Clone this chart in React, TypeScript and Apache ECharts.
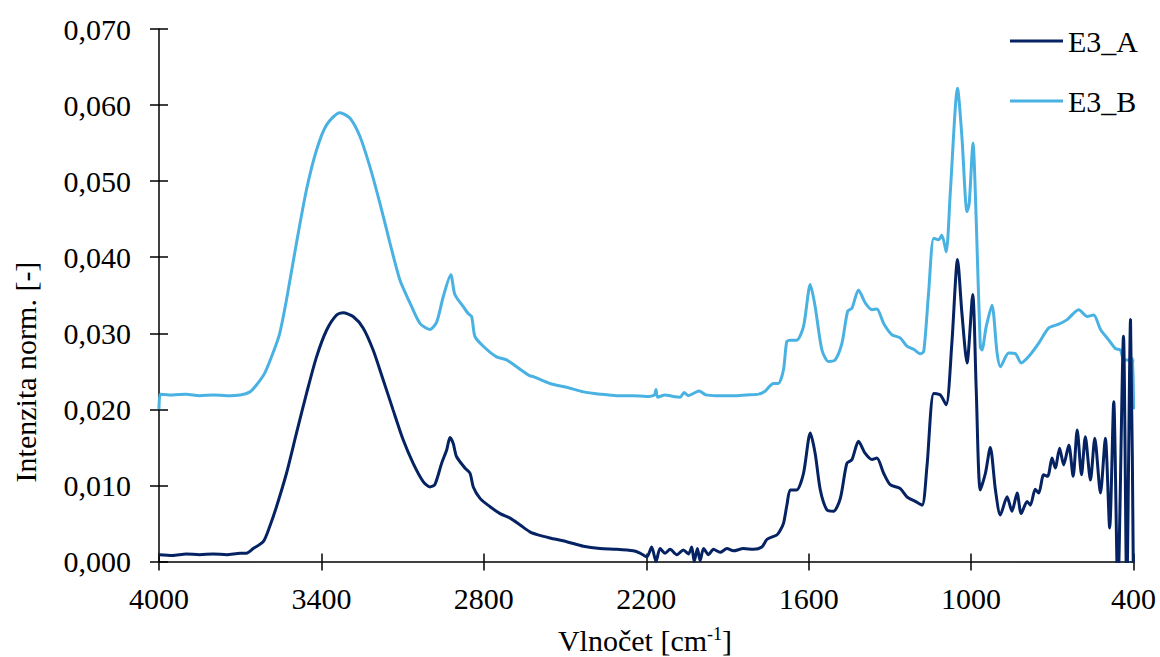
import React, { useEffect, useRef } from "react";
import * as echarts from "echarts";

const FONT = "Times New Roman";

const seriesNames = ["E3_A", "E3_B"];
const seriesColors = ["#052262", "#4AB2E2"];

const xMin = 400;
const xMax = 4000;
const xStep = 600;
const yMin = 0;
const yMax = 0.07;
const yStep = 0.01;

const xTitle = "Vlnočet [cm";
const xTitleSup = "-1";
const yTitle = "Intenzita norm. [-]";

// [wavenumber cm-1, normalised intensity]
const e3A: [number, number][] = [
  [4000, 0.0009], [3950, 0.0008], [3900, 0.001], [3850, 0.0009], [3800, 0.001], [3750, 0.0009],
  [3700, 0.0011], [3677, 0.0011], [3652, 0.0017], [3615, 0.0026], [3591, 0.0046], [3566, 0.0072],
  [3529, 0.0116], [3492, 0.0169], [3455, 0.0221], [3418, 0.0269], [3381, 0.0304], [3344, 0.0324],
  [3320, 0.0327], [3283, 0.0322], [3246, 0.0307], [3209, 0.0278], [3172, 0.0239], [3135, 0.0199],
  [3098, 0.016], [3061, 0.0129], [3024, 0.0105], [2999, 0.0098], [2981, 0.0101], [2956, 0.0129],
  [2937, 0.0147], [2925, 0.0163], [2913, 0.0155], [2901, 0.0138], [2870, 0.0123], [2851, 0.0116],
  [2839, 0.0098], [2814, 0.0083], [2777, 0.0072], [2740, 0.0063], [2703, 0.0057], [2666, 0.0048],
  [2630, 0.0039], [2600, 0.0035], [2556, 0.0031], [2494, 0.0026], [2432, 0.002], [2371, 0.0017],
  [2309, 0.0016], [2248, 0.0014], [2223, 0.0011], [2198, 0.0006], [2180, 0.0019], [2164, 0.0],
  [2149, 0.0017], [2130, 0.0011], [2112, 0.0016], [2087, 0.0009], [2063, 0.0015], [2044, 0.001],
  [2032, 0.0019], [2023, 0.0], [2011, 0.0017], [2001, 0.0001], [1988, 0.0017], [1970, 0.0009],
  [1952, 0.0016], [1927, 0.0012], [1902, 0.0017], [1878, 0.0014], [1841, 0.0017], [1804, 0.0016],
  [1773, 0.0019], [1754, 0.0029], [1717, 0.0035], [1705, 0.0041], [1693, 0.005], [1680, 0.0075],
  [1668, 0.0094], [1644, 0.0094], [1619, 0.0116], [1594, 0.0169], [1576, 0.0142], [1557, 0.0094],
  [1533, 0.0068], [1508, 0.0066], [1483, 0.0083], [1459, 0.0129], [1440, 0.0134], [1416, 0.0158],
  [1391, 0.0142], [1366, 0.0134], [1348, 0.0136], [1323, 0.0116], [1299, 0.0101], [1262, 0.0096],
  [1237, 0.0085], [1206, 0.0079], [1181, 0.0074], [1163, 0.0125], [1138, 0.0221], [1114, 0.0219],
  [1092, 0.0206], [1071, 0.0287], [1050, 0.0397], [1034, 0.0327], [1015, 0.0261], [994, 0.0351],
  [981, 0.0226], [966, 0.0094], [947, 0.0116], [929, 0.015], [910, 0.0094], [892, 0.0061],
  [867, 0.0085], [849, 0.0066], [830, 0.009], [815, 0.0063], [793, 0.0079], [781, 0.0074],
  [763, 0.0095], [750, 0.009], [732, 0.0114], [717, 0.0112], [701, 0.0136], [689, 0.0123],
  [673, 0.0149], [658, 0.0127], [639, 0.0153], [623, 0.0112], [608, 0.0173], [592, 0.0114],
  [578, 0.0164], [559, 0.0107], [543, 0.0162], [522, 0.009], [504, 0.0162], [488, 0.0044],
  [473, 0.021], [458, -0.004], [437, 0.0296], [425, -0.004], [411, 0.0318], [400, -0.004],
];

const e3B: [number, number][] = [
  [4000, 0.02], [3995, 0.022], [3950, 0.0219], [3900, 0.022], [3850, 0.0218], [3800, 0.0219],
  [3750, 0.0218], [3700, 0.0219], [3664, 0.0223], [3640, 0.0232], [3609, 0.0248], [3579, 0.0274],
  [3554, 0.03], [3529, 0.0344], [3492, 0.0419], [3455, 0.0489], [3418, 0.0541], [3381, 0.0574],
  [3332, 0.059], [3295, 0.0583], [3258, 0.0559], [3221, 0.0519], [3184, 0.0471], [3147, 0.0419],
  [3110, 0.037], [3073, 0.034], [3036, 0.0313], [2999, 0.0305], [2974, 0.0315], [2950, 0.0348],
  [2922, 0.0377], [2907, 0.0351], [2876, 0.0335], [2858, 0.0326], [2845, 0.0322], [2833, 0.0296],
  [2802, 0.0283], [2753, 0.0269], [2716, 0.0265], [2679, 0.0256], [2630, 0.0244], [2617, 0.0243],
  [2556, 0.0234], [2494, 0.0229], [2432, 0.0223], [2371, 0.022], [2309, 0.0218], [2248, 0.0218],
  [2200, 0.0217], [2170, 0.0219], [2164, 0.0226], [2158, 0.0216], [2130, 0.0219], [2100, 0.0217],
  [2075, 0.0216], [2060, 0.0222], [2045, 0.0218], [2020, 0.0222], [2005, 0.0224], [1980, 0.0219],
  [1940, 0.0218], [1880, 0.0218], [1830, 0.0219], [1785, 0.022], [1760, 0.0224], [1748, 0.0229],
  [1730, 0.0234], [1712, 0.0234], [1693, 0.0252], [1681, 0.0289], [1668, 0.0291], [1644, 0.0291],
  [1619, 0.0309], [1594, 0.0364], [1576, 0.0335], [1551, 0.0278], [1527, 0.0263], [1502, 0.0265],
  [1477, 0.0287], [1456, 0.0329], [1440, 0.0333], [1416, 0.0357], [1391, 0.034], [1366, 0.0331],
  [1348, 0.0332], [1323, 0.0313], [1292, 0.0298], [1262, 0.0294], [1237, 0.0283], [1212, 0.0279],
  [1188, 0.0273], [1175, 0.0276], [1157, 0.0353], [1138, 0.0425], [1120, 0.0423], [1108, 0.0429],
  [1092, 0.0407], [1077, 0.0484], [1050, 0.0622], [1034, 0.0559], [1015, 0.046], [1007, 0.047],
  [993, 0.055], [981, 0.0449], [966, 0.0282], [960, 0.0278], [944, 0.0309], [923, 0.0337],
  [904, 0.0274], [892, 0.0256], [861, 0.0274], [836, 0.0273], [815, 0.0261], [781, 0.0272],
  [750, 0.0287], [713, 0.0307], [676, 0.0312], [645, 0.0318], [602, 0.0331], [571, 0.0322],
  [547, 0.0324], [522, 0.0305], [491, 0.0291], [467, 0.028], [448, 0.0278], [436, 0.0265],
  [417, 0.0265], [405, 0.0256], [402, 0.0267], [400, 0.02],
];

const seriesData = [e3A, e3B];

export default function App() {
  const ref = useRef<HTMLDivElement>(null);

  useEffect(() => {
    if (!ref.current) return;
    const chart = echarts.init(ref.current, undefined, { renderer: "svg" });
    const axisColor = "#000";
    const tickStyle = { color: axisColor, width: 1.5 };

    const xBase = {
      type: "value" as const,
      min: xMin,
      max: xMax,
      interval: xStep,
      inverse: true,
      position: "bottom" as const,
      gridIndex: 0,
      splitLine: { show: false },
    };
    const yBase = {
      type: "value" as const,
      min: yMin,
      max: yMax,
      interval: yStep,
      position: "left" as const,
      gridIndex: 0,
      splitLine: { show: false },
    };

    chart.setOption({
      animation: false,
      backgroundColor: "#fff",
      textStyle: { fontFamily: FONT },
      grid: { left: 159, right: 26.5, top: 29, bottom: 95.5, containLabel: false },
      legend: {
        show: true,
        orient: "vertical",
        left: 1005,
        top: 21,
        icon: "rect",
        itemWidth: 53,
        itemHeight: 3,
        itemGap: 30,
        data: seriesNames,
        textStyle: { fontSize: 30, fontFamily: FONT, color: "#000", lineHeight: 30 },
      },
      xAxis: [
        {
          ...xBase,
          axisLine: { show: true, lineStyle: tickStyle },
          axisTick: { show: true, length: 9, lineStyle: tickStyle },
          axisLabel: {
            fontSize: 30,
            fontFamily: FONT,
            color: "#000",
            margin: 22,
            formatter: (v: number) => String(Math.round(v)),
          },
        },
        {
          ...xBase,
          axisLine: { show: false },
          axisTick: { show: true, inside: true, length: 8, lineStyle: tickStyle },
          axisLabel: { show: false },
        },
      ],
      yAxis: [
        {
          ...yBase,
          axisLine: { show: true, lineStyle: tickStyle },
          axisTick: { show: true, length: 9, lineStyle: tickStyle },
          axisLabel: {
            fontSize: 30,
            fontFamily: FONT,
            color: "#000",
            margin: 28,
            formatter: (v: number) => v.toFixed(3).replace(".", ","),
          },
        },
        {
          ...yBase,
          axisLine: { show: false },
          axisTick: { show: true, inside: true, length: 9, lineStyle: tickStyle },
          axisLabel: { show: false },
        },
      ],
      graphic: [
        {
          type: "text",
          x: 25,
          y: 372,
          rotation: Math.PI / 2,
          style: {
            text: yTitle,
            font: `30px ${FONT}`,
            fontSize: 30,
            fontFamily: FONT,
            fill: "#000",
            align: "center",
            verticalAlign: "middle",
          },
        },
        {
          type: "text",
          x: 645,
          y: 640,
          style: {
            text: `{a|${xTitle}}{s|${xTitleSup}}{a|]}`,
            align: "center",
            verticalAlign: "middle",
            rich: {
              a: { fontSize: 30, fontFamily: FONT, fill: "#000", color: "#000", lineHeight: 30 },
              s: { fontSize: 18, fontFamily: FONT, fill: "#000", color: "#000", verticalAlign: "top", lineHeight: 30 },
            },
          },
        },
      ],
      series: seriesNames.map((name, i) => ({
        name,
        type: "line",
        data: seriesData[i],
        xAxisIndex: 0,
        yAxisIndex: 0,
        symbol: "none",
        showSymbol: false,
        smooth: 0.25,
        clip: true,
        z: i === 0 ? 3 : 2,
        color: seriesColors[i],
        lineStyle: { width: 3, color: seriesColors[i] },
      })),
    });

    return () => chart.dispose();
  }, []);

  return (
    <div
      ref={ref}
      style={{ position: "fixed", left: 0, top: 0, width: 1160, height: 657 }}
    />
  );
}
